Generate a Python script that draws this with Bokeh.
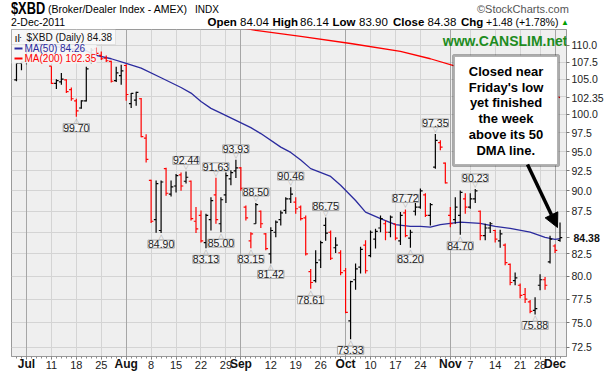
import numpy as np
import pandas as pd
from bokeh.plotting import figure
from bokeh.layouts import column
from bokeh.models import (Range1d, FixedTicker, PrintfTickFormatter, Label, LabelSet, LinearAxis,
                          LogAxis, BoxAnnotation, Arrow, NormalHead, Grid, ColumnDataSource, Div)
from bokeh.embed import file_html
from bokeh.resources import INLINE
from bokeh.core.properties import value

# ---------------- data ----------------
holidays = ["2011-07-04", "2011-09-05", "2011-11-24"]
dates = [d.strftime("%Y-%m-%d") for d in pd.bdate_range("2011-06-29", "2011-12-02")
         if d.strftime("%Y-%m-%d") not in holidays]

opens = [104.9, 107.3, 107.6, 109.0, 108.4, 108.9, 108.9, 106.9, 104.4, 104.6,
         104.9, 103.5, 101.9, 100.9, 101.9, 107.5, 109.5, 108.5, 108.1, 107.6,
         104.8, 105.5, 107.0, 101.5, 102.0, 102.2, 96.8, 91.3, 86.5, 85.2,
         92.8, 89.6, 90.6, 92.0, 91.2, 91.2, 86.3, 87.0, 83.8, 86.5,
         89.5, 86.0, 89.5, 91.5, 92.5, 92.9, 88.0, 84.0, 86.0, 87.5,
         84.8, 82.5, 85.0, 86.5, 87.6, 89.0, 88.6, 88.0, 86.7, 80.5,
         79.5, 81.8, 85.8, 85.0, 83.2, 82.6, 80.6, 75.2, 79.6, 81.0,
         83.5, 82.3, 84.2, 85.5, 86.0, 85.0, 86.0, 84.0, 87.3, 84.3,
         87.5, 88.0, 89.5, 87.0, 93.0, 96.2, 93.5, 87.0, 86.5, 87.0,
         89.0, 88.0, 89.0, 87.5, 84.6, 85.5, 85.2, 84.0, 83.5, 81.3,
         79.5, 79.0, 78.0, 77.2, 76.3, 79.0, 79.6, 81.6, 83.4, 84.04]
highs = [107.4, 107.6, 109.3, 109.4, 108.9, 110.0, 109.2, 106.9, 105.0, 105.9,
         105.0, 103.8, 102.2, 102.0, 106.8, 109.6, 109.7, 109.1, 108.5, 107.7,
         106.8, 107.1, 107.2, 103.0, 103.2, 102.3, 97.3, 91.4, 91.3, 91.3,
         92.9, 91.3, 92.1, 92.3, 92.44, 91.3, 88.0, 87.6, 87.2, 89.2,
         91.63, 89.2, 92.3, 92.6, 93.93, 93.0, 88.2, 85.0, 88.50, 87.6,
         84.9, 85.6, 86.4, 87.6, 89.2, 90.46, 89.2, 88.2, 87.0, 80.8,
         82.9, 84.0, 86.75, 85.2, 84.4, 82.9, 80.9, 79.5, 81.4, 83.3,
         84.05, 85.2, 85.4, 87.0, 86.4, 87.0, 86.0, 87.4, 87.72, 85.3,
         88.5, 90.3, 89.7, 88.5, 97.35, 96.5, 93.6, 88.0, 89.2, 90.05,
         89.7, 89.7, 90.23, 87.6, 86.0, 86.2, 85.3, 85.3, 83.7, 81.4,
         80.4, 79.2, 78.7, 77.4, 77.7, 80.2, 79.9, 84.6, 83.6, 86.14]
lows = [104.7, 106.3, 107.2, 108.2, 107.7, 108.6, 107.6, 104.3, 103.6, 104.2,
        103.0, 101.9, 99.70, 100.8, 101.8, 107.3, 108.5, 107.8, 107.5, 104.5,
        104.6, 104.2, 101.9, 100.9, 101.2, 96.9, 93.6, 86.1, 84.95, 84.90,
        89.4, 89.3, 89.8, 90.0, 90.9, 86.4, 84.9, 83.8, 83.13, 85.2,
        86.0, 85.00, 88.5, 90.7, 91.6, 90.0, 86.4, 83.15, 86.0, 85.5,
        82.9, 81.42, 84.4, 85.8, 87.2, 88.5, 87.2, 86.4, 82.3, 78.61,
        79.3, 80.9, 84.0, 81.8, 82.6, 80.1, 76.0, 73.33, 78.5, 80.3,
        80.3, 82.1, 83.1, 85.0, 84.05, 84.4, 84.05, 83.5, 84.4, 83.20,
        87.0, 87.8, 86.8, 85.8, 92.8, 95.2, 90.9, 85.6, 86.0, 84.70,
        87.2, 87.8, 88.5, 84.05, 84.05, 84.9, 83.8, 83.2, 81.2, 79.0,
        79.0, 77.6, 77.1, 76.0, 75.88, 78.45, 78.5, 81.4, 82.6, 83.90]
closes = [107.3, 107.5, 109.1, 108.6, 108.3, 109.5, 108.2, 104.4, 104.8, 105.0,
          103.2, 102.2, 100.5, 101.9, 106.5, 109.3, 108.8, 108.0, 107.7, 104.7,
          105.9, 106.2, 102.8, 102.95, 103.1, 97.0, 94.0, 86.3, 90.9, 91.1,
          89.7, 90.5, 91.9, 90.6, 91.7, 86.6, 85.4, 84.0, 87.0, 88.8,
          86.5, 88.9, 91.9, 92.3, 92.9, 90.3, 86.7, 84.8, 88.3, 86.0,
          83.1, 85.2, 86.2, 87.3, 89.0, 89.6, 87.8, 86.6, 82.5, 79.3,
          81.5, 83.8, 84.9, 82.0, 83.5, 80.4, 76.1, 79.4, 80.8, 83.0,
          80.6, 85.0, 85.1, 86.6, 85.0, 86.8, 84.3, 87.0, 84.6, 85.0,
          88.0, 90.0, 87.0, 88.3, 96.5, 95.6, 91.0, 86.0, 88.0, 89.8,
          88.0, 89.0, 90.0, 84.6, 85.5, 86.0, 84.2, 84.8, 81.5, 79.3,
          79.8, 77.9, 77.5, 76.2, 76.5, 79.6, 79.0, 84.2, 82.90, 84.38]

ma50_dates = ["2011-06-29", "2011-07-08", "2011-07-20", "2011-07-22", "2011-07-27", "2011-08-01",
              "2011-08-04", "2011-08-10", "2011-08-16", "2011-08-18", "2011-08-22", "2011-08-24",
              "2011-08-26", "2011-08-31", "2011-09-06", "2011-09-08", "2011-09-14", "2011-09-16",
              "2011-09-20", "2011-09-22", "2011-09-28", "2011-09-30", "2011-10-05", "2011-10-07",
              "2011-10-12", "2011-10-17", "2011-10-20", "2011-10-24", "2011-10-26", "2011-10-28",
              "2011-11-01", "2011-11-03", "2011-11-09", "2011-11-14", "2011-11-17", "2011-11-23",
              "2011-11-29", "2011-12-01", "2011-12-02"]
ma50_vals = [110.9, 110.0, 109.2, 108.5, 108.0, 107.3, 106.6, 105.2, 103.8, 103.0, 101.8, 100.85,
             100.2, 99.2, 98.2, 97.4, 95.6, 94.9, 93.9, 92.8, 91.8, 90.7, 88.8, 87.4,
             86.6, 85.9, 85.7, 85.7, 85.6, 85.9, 86.05, 86.2, 86.05, 85.7, 85.45, 85.0,
             84.4, 84.17, 84.26]

ma200_dates = ["2011-08-31", "2011-09-07", "2011-09-20", "2011-10-04", "2011-10-18", "2011-10-26",
               "2011-11-02", "2011-11-11", "2011-11-21", "2011-11-29", "2011-12-02"]
ma200_vals = [112.9, 112.3, 111.4, 110.3, 109.1, 108.0, 106.9, 105.5, 104.1, 103.1, 102.35]

mark_dates = ["2011-07-18", "2011-08-17", "2011-08-10", "2011-08-25", "2011-08-23", "2011-08-26",
              "2011-08-31", "2011-09-07", "2011-09-06", "2011-09-12", "2011-09-16", "2011-09-22",
              "2011-09-27", "2011-10-04", "2011-10-19", "2011-10-20", "2011-10-27", "2011-11-03",
              "2011-11-08", "2011-11-25"]
mark_vals = [99.70, 92.44, 84.90, 91.63, 83.13, 85.00, 93.93, 88.50, 83.15, 81.42, 90.46, 78.61,
             86.75, 73.33, 87.72, 83.20, 97.35, 84.70, 90.23, 75.88]
mark_kind = ["L", "H", "L", "H", "L", "L", "H", "H", "L", "L", "H", "L",
             "H", "L", "H", "L", "H", "L", "H", "L"]

week_ticks = ["2011-07-11", "2011-07-18", "2011-07-25", "2011-08-08", "2011-08-15", "2011-08-22",
              "2011-08-29", "2011-09-12", "2011-09-19", "2011-09-26", "2011-10-10", "2011-10-17",
              "2011-10-24", "2011-11-07", "2011-11-14", "2011-11-21", "2011-11-28"]
week_labels = ["11", "18", "25", "8", "15", "22", "29", "12", "19", "26", "10", "17",
               "24", "7", "14", "21", "28"]
month_ticks = ["2011-07-01", "2011-08-01", "2011-09-01", "2011-10-03", "2011-11-01", "2011-12-01"]
month_labels = ["Jul", "Aug", "Sep", "Oct", "Nov", "Dec"]

price_ticks = [72.5, 75.0, 77.5, 80.0, 82.5, 85.0, 87.5, 90.0, 92.5, 95.0,
               97.5, 100.0, 102.5, 105.0, 107.5, 110.0]

# ---------------- helpers ----------------
pos = {d: i for i, d in enumerate(dates)}
FONT = "Liberation Sans"
FL, FB = 11, 356   # frame left / bottom on the page


def sx(px):
    return px - FL


def sy(py):
    return FB - py


def sbox(l, r, t, b, **kw):
    return BoxAnnotation(left=sx(l), right=sx(r), top=sy(t), bottom=sy(b),
                         left_units="screen", right_units="screen", top_units="screen",
                         bottom_units="screen", **kw)


# ---------------- header (HTML text) ----------------
def span(text, left, cy, size, bold=False, color="#000000", sxf=1.0):
    top = cy - size / 2.0
    return ('<span style="position:absolute;left:%.1fpx;top:%.1fpx;font-size:%.1fpx;line-height:1;'
            'font-weight:%s;color:%s;white-space:nowrap;display:inline-block;'
            'transform:scaleX(%.2f);transform-origin:left center;">%s</span>'
            % (left, top, size, "bold" if bold else "normal", color, sxf, text))


chg = closes[-1] - closes[-2]
hdr = [span("$XBD", 11, 9, 16, True, sxf=0.8),
       span("(Broker/Dealer Index - AMEX)", 48, 9.5, 10.5),
       span("INDX", 195, 9.5, 10),
       span("©StockCharts.com", 477, 9.5, 11, color="#555555"),
       span("2-Dec-2011", 11, 22.5, 10.5),
       span("Open", 207.5, 22.5, 11.5, True), span("%.2f" % opens[-1], 240, 22.5, 11.5),
       span("High", 272.5, 22.5, 11.5, True), span("%.2f" % highs[-1], 300, 22.5, 11.5),
       span("Low", 332.5, 22.5, 11.5, True), span("%.2f" % lows[-1], 359, 22.5, 11.5),
       span("Close", 393, 22.5, 11.5, True), span("%.2f" % closes[-1], 427.5, 22.5, 11.5),
       span("Chg", 461, 22.5, 11.5, True),
       span("+%.2f (+1.78%%)" % chg, 486, 22.5, 10.5),
       span("▲", 561, 22.5, 8, color="#00A000")]
header = Div(text='<div style="position:relative;width:606px;height:29px;font-family:\'Liberation Sans\','
                  'Arial,sans-serif;">' + "".join(hdr) + "</div>",
             width=606, height=29, margin=(0, 0, 0, 0), disable_math=True)

# ---------------- figure ----------------
p = figure(width=606, height=349, x_range=Range1d(-1.0, 110.3), y_range=Range1d(71.6, 112.45),
           y_axis_type="log", y_axis_location="right", output_backend="svg", toolbar_location=None,
           min_border_left=FL, min_border_right=37, min_border_top=0, min_border_bottom=22,
           background_fill_color="#EFEFEF", border_fill_color="white")
p.outline_line_color = "#9A9A9A"

x = np.arange(len(dates))
week_pos = [pos[d] for d in week_ticks]
month_pos = [pos[d] for d in month_ticks]

# right price axis; MA200 value takes the place of 102.5, the close (own bold axis) that of 85.0
axis_ticks = [t for t in price_ticks if t not in (102.5, 85.0)] + [ma200_vals[-1], closes[-1]]
ya = p.yaxis[0]
ya.ticker = FixedTicker(ticks=axis_ticks)
ya.formatter = PrintfTickFormatter(format="%.1f")
ya.major_label_overrides = {ma200_vals[-1]: "%.2f" % ma200_vals[-1], closes[-1]: ""}
ya.major_label_text_font = FONT
ya.major_label_text_font_size = "10.5px"
ya.major_label_text_color = "#222222"
ya.major_tick_out = 3
ya.major_tick_in = 0
ya.minor_tick_line_color = None
ya.axis_line_color = "#9A9A9A"
ya.major_tick_line_color = "#777777"
ya.major_label_standoff = 2

yb = LogAxis(ticker=FixedTicker(ticks=[closes[-1]]),
             major_label_overrides={closes[-1]: "%.2f" % closes[-1]},
             major_label_text_font=FONT, major_label_text_font_size="10.5px",
             major_label_text_font_style="bold", major_label_text_color="#111111",
             axis_line_color=None, major_tick_line_color=None, minor_tick_line_color=None,
             major_tick_out=0, major_tick_in=0, minor_tick_out=0, minor_tick_in=0,
             major_label_standoff=-33)
p.add_layout(yb, "right")

xa = p.xaxis[0]
xa.ticker = FixedTicker(ticks=week_pos + month_pos, minor_ticks=list(x))
over = {int(k): v for k, v in zip(week_pos, week_labels)}
over.update({int(k): "" for k in month_pos})
xa.major_label_overrides = over
xa.major_label_text_font = FONT
xa.major_label_text_font_size = "11px"
xa.major_label_text_color = "#222222"
xa.major_tick_out = 3
xa.major_tick_in = 0
xa.minor_tick_out = 2
xa.minor_tick_in = 0
xa.minor_tick_line_color = "#8A8A8A"
xa.major_tick_line_color = "#777777"
xa.axis_line_color = "#9A9A9A"
xa.major_label_standoff = 1

# month names: a second bottom axis whose bold labels are pulled up into the same row
xm = LinearAxis(ticker=FixedTicker(ticks=month_pos),
                major_label_overrides={int(k): v for k, v in zip(month_pos, month_labels)},
                major_label_text_font=FONT, major_label_text_font_size="12px",
                major_label_text_font_style="bold", major_label_text_color="#111111",
                axis_line_color=None, major_tick_line_color=None, minor_tick_line_color=None,
                major_tick_out=0, major_tick_in=0, minor_tick_out=0, minor_tick_in=0,
                major_label_standoff=-15)
p.add_layout(xm, "below")

# grids
p.xgrid.ticker = FixedTicker(ticks=week_pos)
p.xgrid.grid_line_color = "#D4D4D4"
p.ygrid.ticker = FixedTicker(ticks=price_ticks)
p.ygrid.grid_line_color = "#D4D4D4"
p.add_layout(Grid(dimension=0, ticker=FixedTicker(ticks=month_pos), grid_line_color="#A6A6A6"))

# MA lines
p.line([pos[d] for d in ma200_dates], ma200_vals, line_color="#FF0000", line_width=1.3)
p.line([pos[d] for d in ma50_dates], ma50_vals, line_color="#2B2B9E", line_width=1.3)

# OHLC bars
cl = np.array(closes)
prev = np.concatenate([[cl[0] - 1], cl[:-1]])
colors = np.where(cl >= prev, "#000000", "#FF0000")
src = ColumnDataSource(dict(x=x, xl=x - 0.45, xr=x + 0.45, o=opens, h=highs, l=lows, c=closes, col=colors))
p.segment("x", "l", "x", "h", line_color="col", line_width=1.2, source=src)
p.segment("xl", "o", "x", "o", line_color="col", line_width=1.2, source=src)
p.segment("x", "c", "xr", "c", line_color="col", line_width=1.2, source=src)

# high / low value tags with their small pointers
for kind, off, ptr in (("H", 11, "▽"), ("L", -11, "△")):
    sel = [k for k in range(len(mark_vals)) if mark_kind[k] == kind]
    ms = ColumnDataSource(dict(x=[pos[mark_dates[k]] for k in sel], y=[mark_vals[k] for k in sel],
                               t=["%.2f" % mark_vals[k] for k in sel], p=[ptr] * len(sel)))
    p.add_layout(LabelSet(x="x", y="y", text="p", source=ms, y_offset=off * 0.36, text_align="center",
                          text_baseline="middle", text_font=value("DejaVu Sans"), text_font_size="7px",
                          text_color="#A0A0A0"))
    p.add_layout(LabelSet(x="x", y="y", text="t", source=ms, y_offset=off, text_align="center",
                          text_baseline="middle", text_font=value(FONT), text_font_size="10.5px",
                          text_color="#222222", background_fill_color="#F4F4F4",
                          border_line_color="#A8A8A8"))

# legend
p.add_layout(sbox(11, 96, 44, 63, fill_color="#F6F6F6", fill_alpha=0.9, line_color=None))
p.add_layout(sbox(11, 115, 29, 44, fill_color="#F8F8F8", fill_alpha=0.95, line_color="#B5B5B5",
                  line_width=1))
p.add_layout(Label(x=sx(14), y=sy(37), x_units="screen", y_units="screen", text="ıŀ",
                   text_baseline="middle", text_font=FONT, text_font_size="11px", text_color="#111111"))
p.add_layout(Label(x=sx(26), y=sy(37), x_units="screen", y_units="screen",
                   text="$XBD (Daily) %.2f" % closes[-1], text_baseline="middle", text_font=FONT,
                   text_font_size="10px", text_color="#111111"))
for row_y, col, txt in ((48, "#2B2B9E", "MA(50) %.2f" % ma50_vals[-1]),
                        (58, "#FF0000", "MA(200) %.2f" % ma200_vals[-1])):
    p.add_layout(sbox(14, 22, row_y - 1, row_y + 1, fill_color=col, fill_alpha=1, line_color=None))
    p.add_layout(Label(x=sx(24), y=sy(row_y), x_units="screen", y_units="screen", text=txt,
                       text_baseline="middle", text_font=FONT, text_font_size="10px", text_color=col))

# website
p.add_layout(Label(x=sx(567), y=sy(40), x_units="screen", y_units="screen", text="www.CANSLIM.net",
                   text_align="right", text_baseline="middle", text_font=FONT, text_font_size="14px",
                   text_font_style="bold", text_color="#1E8C1E"))

# callout
p.add_layout(sbox(453, 558, 55, 165, fill_color="white", fill_alpha=1, line_color="black", line_width=3))
callout = ["Closed near", "Friday's low", "yet finished", "the week", "above its 50", "DMA line."]
for k, line in enumerate(callout):
    p.add_layout(Label(x=sx(505.5), y=sy(71 + k * 15.7), x_units="screen", y_units="screen",
                       text=line, text_align="center", text_baseline="middle", text_font=FONT,
                       text_font_size="13px", text_font_style="bold", text_color="black"))
p.add_layout(Arrow(x_start=sx(527), y_start=sy(164), x_end=sx(557), y_end=sy(227),
                   start_units="screen", end_units="screen", line_width=3.5, line_color="black",
                   end=NormalHead(size=14, fill_color="black", line_color="black")))

layout = column(header, p, spacing=0)
open("out.html", "w").write(file_html(layout, INLINE))
